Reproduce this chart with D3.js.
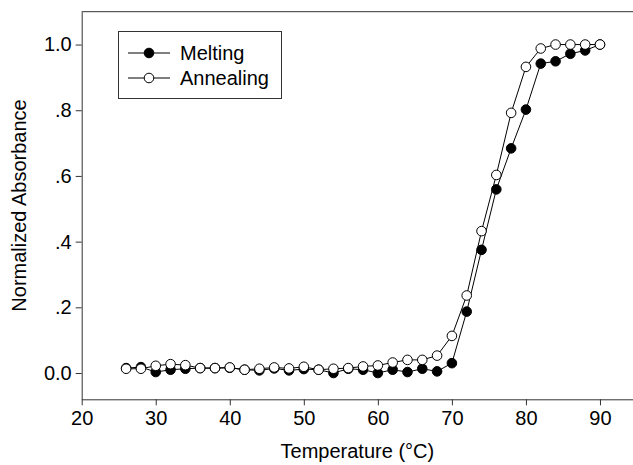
<!DOCTYPE html>
<html>
<head>
<meta charset="utf-8">
<script src="https://cdn.jsdelivr.net/npm/d3@7"></script>
<style>
  html, body { margin: 0; padding: 0; background: #fff; }
  svg { display: block; font-family: "Liberation Sans", Arial, Helvetica, sans-serif; }
</style>
</head>
<body>
<svg id="chart" width="633" height="465"></svg>
<script>
// Temperatures (°C) at which absorbance was recorded
const temperatures = [26, 28, 30, 32, 34, 36, 38, 40, 42, 44, 46, 48, 50, 52, 54, 56, 58,
  60, 62, 64, 66, 68, 70, 72, 74, 76, 78, 80, 82, 84, 86, 88, 90];

// Normalized absorbance, heating run
const melting = [0.015, 0.018, 0.003, 0.010, 0.013, 0.015, 0.015, 0.016, 0.010, 0.008, 0.014,
  0.008, 0.012, 0.010, 0.000, 0.013, 0.010, 0.000, 0.010, 0.003, 0.013, 0.005, 0.030,
  0.187, 0.375, 0.559, 0.684, 0.802, 0.942, 0.949, 0.972, 0.982, 1.000];

// Normalized absorbance, cooling run
const annealing = [0.013, 0.013, 0.022, 0.027, 0.024, 0.015, 0.015, 0.017, 0.010, 0.013, 0.017,
  0.014, 0.019, 0.010, 0.013, 0.015, 0.020, 0.023, 0.032, 0.040, 0.040, 0.053, 0.113,
  0.236, 0.432, 0.603, 0.792, 0.932, 0.988, 1.000, 1.000, 1.000, 1.000];

const xTicks = [20, 30, 40, 50, 60, 70, 80, 90];
const yTicks = [0, 0.2, 0.4, 0.6, 0.8, 1.0];
const yTickLabels = ["0.0", ".2", ".4", ".6", ".8", "1.0"];

const seriesNames = ["Melting", "Annealing"];

const svg = d3.select("#chart");
const plotLeft = 81.7, plotRight = 637, plotTop = 11.7, plotBottom = 399.3;

const x = d3.scaleLinear().domain([20, 95]).range([plotLeft, plotRight]);
const y = d3.scaleLinear().domain([-0.08, 1.1]).range([plotBottom, plotTop]);

const axisColor = "#333";
const fontSize = 20;

// frame top edge
svg.append("line")
  .attr("x1", plotLeft).attr("x2", 633)
  .attr("y1", plotTop).attr("y2", plotTop)
  .attr("stroke", axisColor).attr("stroke-width", 1);

// x axis
const gx = svg.append("g")
  .attr("transform", `translate(0,${plotBottom})`)
  .call(d3.axisBottom(x).tickValues(xTicks).tickSize(6).tickPadding(6).tickSizeOuter(0));
gx.select(".domain").attr("stroke", axisColor);
gx.selectAll(".tick line").attr("stroke", axisColor);
gx.selectAll(".tick text").attr("font-size", fontSize).attr("fill", "#000")
  .attr("font-family", "Liberation Sans, Arial, sans-serif");

// y axis
const gy = svg.append("g")
  .attr("transform", `translate(${plotLeft},0)`)
  .call(d3.axisLeft(y).tickValues(yTicks).tickFormat((d, i) => yTickLabels[i])
    .tickSize(6).tickPadding(4).tickSizeOuter(0));
gy.select(".domain").attr("stroke", axisColor);
gy.selectAll(".tick line").attr("stroke", axisColor);
gy.selectAll(".tick text").attr("font-size", fontSize).attr("fill", "#000")
  .attr("font-family", "Liberation Sans, Arial, sans-serif");

// axis titles
svg.append("text")
  .attr("x", (plotLeft + 633) / 2).attr("y", 458)
  .attr("text-anchor", "middle").attr("font-size", fontSize).attr("fill", "#000")
  .text("Temperature (°C)");

svg.append("text")
  .attr("transform", `translate(26,${(plotTop + plotBottom) / 2}) rotate(-90)`)
  .attr("text-anchor", "middle").attr("font-size", fontSize).attr("fill", "#000")
  .text("Normalized Absorbance");

// series
const line = d3.line().x(d => x(d[0])).y(d => y(d[1]));
const series = [
  { name: seriesNames[0], values: melting, fill: "#000" },
  { name: seriesNames[1], values: annealing, fill: "#fff" }
];

series.forEach(s => {
  const pts = temperatures.map((t, i) => [t, s.values[i]]);
  const g = svg.append("g");
  g.append("path").datum(pts)
    .attr("d", line).attr("fill", "none")
    .attr("stroke", "#000").attr("stroke-width", 1);
  g.selectAll("circle").data(pts).join("circle")
    .attr("cx", d => x(d[0])).attr("cy", d => y(d[1]))
    .attr("r", 4.8)
    .attr("fill", s.fill).attr("stroke", "#000").attr("stroke-width", 1);
});

// legend
const lg = svg.append("g");
lg.append("rect")
  .attr("x", 118.5).attr("y", 31.5).attr("width", 163).attr("height", 67)
  .attr("fill", "#fff").attr("stroke", axisColor).attr("stroke-width", 1);
series.forEach((s, i) => {
  const cy = 53 + i * 25;
  lg.append("line").attr("x1", 128).attr("x2", 170).attr("y1", cy).attr("y2", cy)
    .attr("stroke", "#000").attr("stroke-width", 1);
  lg.append("circle").attr("cx", 149).attr("cy", cy).attr("r", 4.8)
    .attr("fill", s.fill).attr("stroke", "#000").attr("stroke-width", 1);
  lg.append("text").attr("x", 180).attr("y", cy).attr("dy", "0.35em")
    .attr("font-size", fontSize).attr("fill", "#000").text(s.name);
});
</script>
</body>
</html>
